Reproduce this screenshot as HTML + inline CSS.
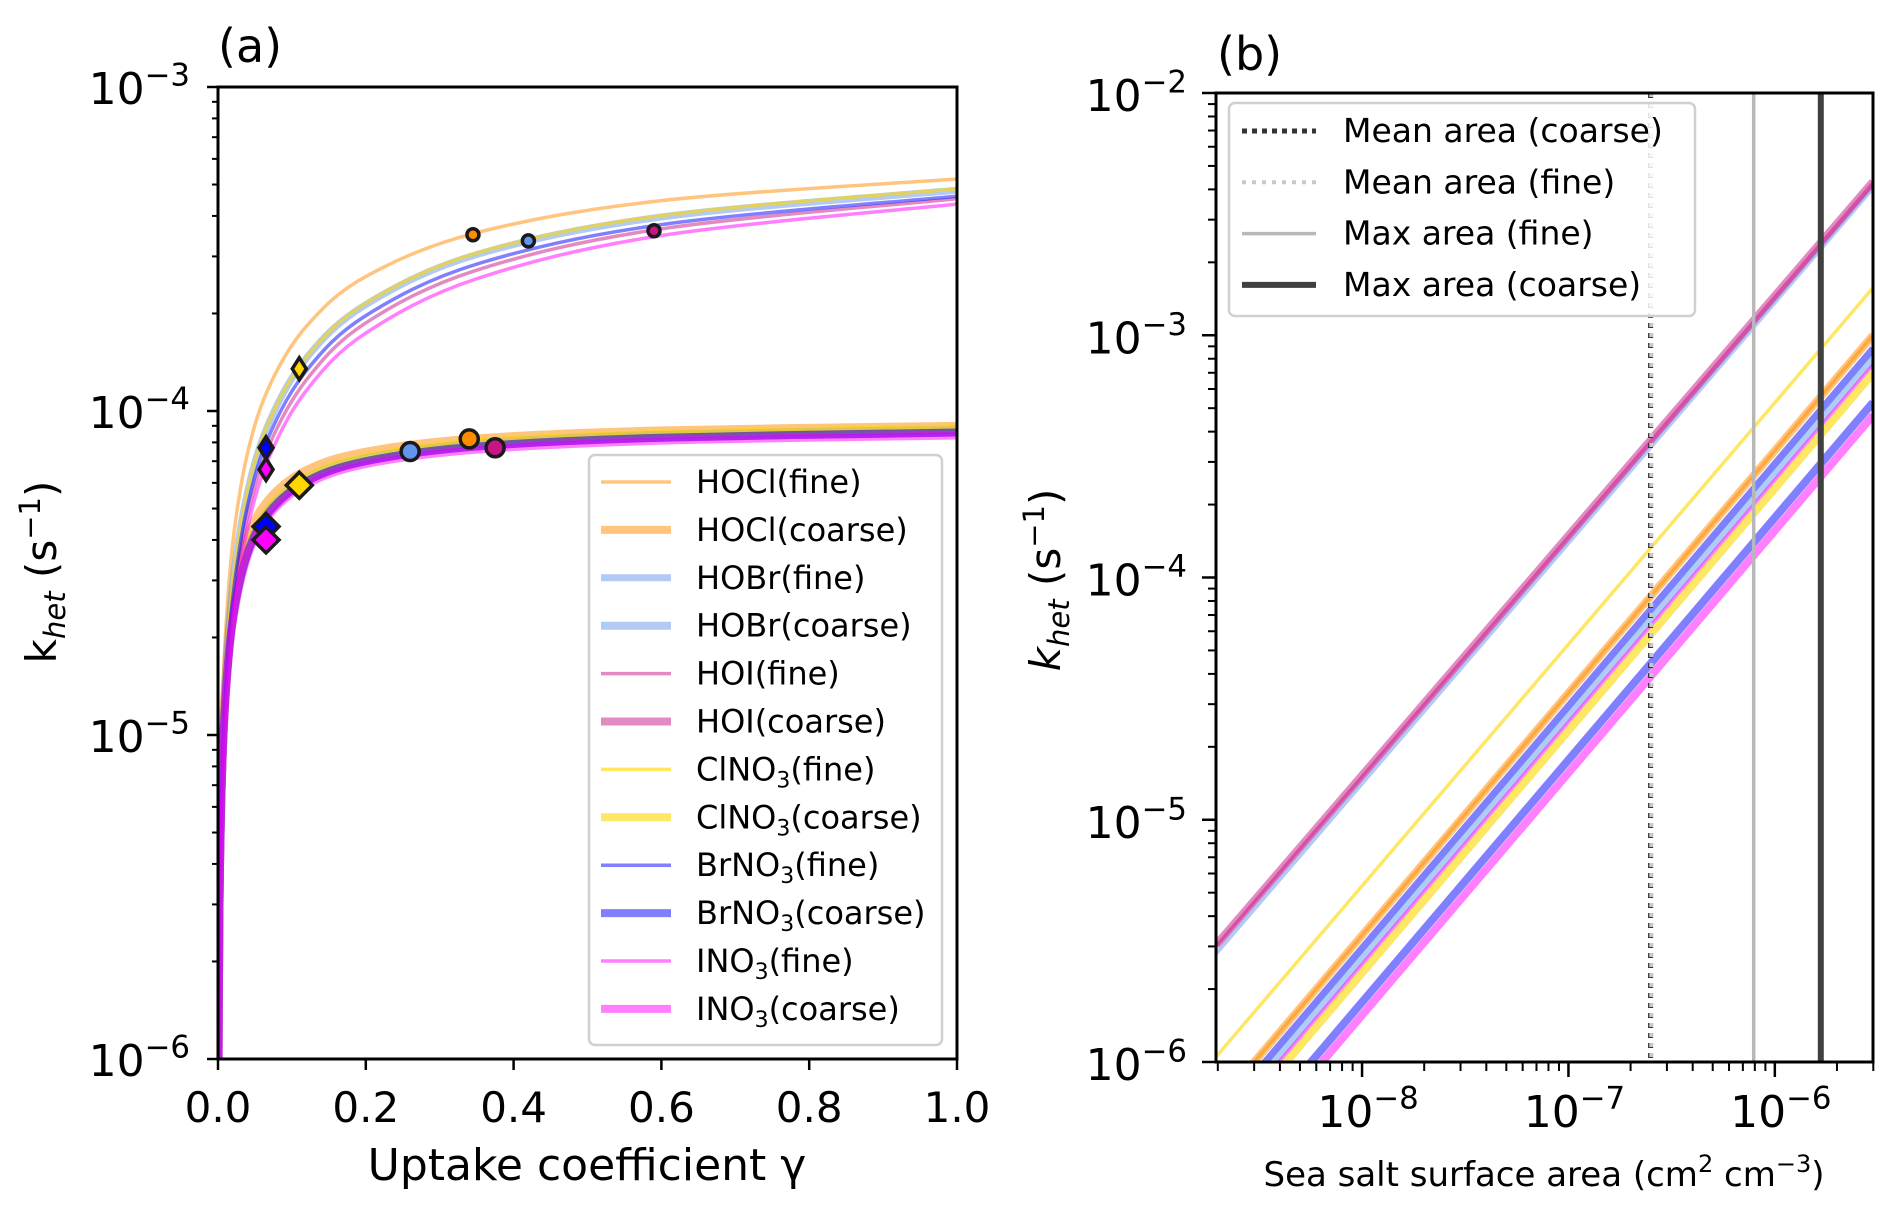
<!DOCTYPE html>
<html><head><meta charset="utf-8"><style>
html,body{margin:0;padding:0;background:#fff;width:1892px;height:1210px;overflow:hidden;}
svg{display:block;}
text{font-family:"DejaVu Sans","Liberation Sans",sans-serif;fill:#000;}
</style></head><body>
<svg id="fig" xmlns="http://www.w3.org/2000/svg" width="1892" height="1210" viewBox="0 0 1892 1210">
<defs>
<clipPath id="clipA"><rect x="218" y="87" width="739" height="972"/></clipPath>
<clipPath id="clipB"><rect x="1216" y="93" width="657" height="969"/></clipPath>
</defs>
<rect x="0" y="0" width="1892" height="1210" fill="#fff"/>
<g id="panelA"></g>
<g id="panelB"></g>
</svg>
<script>
// ---------- Panel (a) data ----------
const gammaGrid = [0.0002,0.0005,0.002,0.005,0.01,0.02,0.04,0.07,0.12,0.2,0.35,0.6,1.0];
const seriesNames = ["HOCl(fine)","HOCl(coarse)","HOBr(fine)","HOBr(coarse)","HOI(fine)","HOI(coarse)","ClNO3(fine)","ClNO3(coarse)","BrNO3(fine)","BrNO3(coarse)","INO3(fine)","INO3(coarse)"];
const kHOClFine   = [4.2e-7,1.04e-6,4.13e-6,1.02e-5,2.02e-5,3.92e-5,7.42e-5,1.20e-4,1.83e-4,2.60e-4,3.55e-4,4.46e-4,5.20e-4];
const kHOClCoarse = [3.6e-7,8.9e-7,3.58e-6,8.2e-6,1.5e-5,2.6e-5,4.08e-5,5.39e-5,6.58e-5,7.49e-5,8.23e-5,8.71e-5,9.0e-5];
const kHOBrFine   = [3.1e-7,7.7e-7,3.05e-6,7.6e-6,1.49e-5,2.93e-5,5.63e-5,9.3e-5,1.46e-4,2.13e-4,3.04e-4,3.97e-4,4.80e-4];
const kHOBrCoarse = [3.05e-7,7.6e-7,3.0e-6,7.1e-6,1.33e-5,2.33e-5,3.71e-5,5.0e-5,6.19e-5,7.14e-5,7.93e-5,8.44e-5,8.75e-5];
const kHOIFine    = [2.6e-7,6.4e-7,2.54e-6,6.3e-6,1.25e-5,2.46e-5,4.75e-5,7.9e-5,1.25e-4,1.87e-4,2.72e-4,3.65e-4,4.52e-4];
const kHOICoarse  = [3.0e-7,7.5e-7,2.94e-6,7.0e-6,1.3e-5,2.28e-5,3.64e-5,4.9e-5,6.07e-5,7.0e-5,7.77e-5,8.27e-5,8.58e-5];
const kClNO3Fine  = [3.1e-7,7.8e-7,3.08e-6,7.7e-6,1.5e-5,2.96e-5,5.69e-5,9.4e-5,1.47e-4,2.15e-4,3.07e-4,4.01e-4,4.85e-4];
const kClNO3Coarse= [3.1e-7,7.7e-7,3.03e-6,7.2e-6,1.34e-5,2.35e-5,3.75e-5,5.05e-5,6.25e-5,7.2e-5,8.0e-5,8.5e-5,8.84e-5];
const kBrNO3Fine  = [2.8e-7,6.9e-7,2.75e-6,6.83e-6,1.35e-5,2.65e-5,5.11e-5,8.47e-5,1.335e-4,1.97e-4,2.84e-4,3.76e-4,4.60e-4];
const kBrNO3Coarse= [3.0e-7,7.5e-7,2.94e-6,7.0e-6,1.3e-5,2.28e-5,3.64e-5,4.9e-5,6.07e-5,7.0e-5,7.77e-5,8.27e-5,8.58e-5];
const kINO3Fine   = [2.3e-7,5.8e-7,2.31e-6,5.75e-6,1.14e-5,2.25e-5,4.35e-5,7.27e-5,1.16e-4,1.74e-4,2.56e-4,3.48e-4,4.35e-4];
const kINO3Coarse = [2.9e-7,7.3e-7,2.88e-6,6.9e-6,1.27e-5,2.23e-5,3.57e-5,4.8e-5,5.95e-5,6.86e-5,7.6e-5,8.1e-5,8.4e-5];
const xTicksA = [0.0,0.2,0.4,0.6,0.8,1.0];
const xTickLabelsA = ["0.0","0.2","0.4","0.6","0.8","1.0"];
const yDecadesA = [-6,-5,-4,-3];
// markers
const circleGamma = [0.345,0.42,0.59,0.26,0.34,0.375];
const circleK = [3.5e-4,3.35e-4,3.6e-4,7.5e-5,8.2e-5,7.7e-5];
const diamondGamma = [0.11,0.065,0.065,0.11,0.065,0.065];
const diamondK = [1.35e-4,7.7e-5,6.6e-5,5.9e-5,4.4e-5,4.0e-5];

// ---------- Panel (b) data ----------
const bNames = ["HOBr(fine)","HOI(fine)","HOI(coarse)","ClNO3(fine)","HOCl(coarse)","HOCl(fine)","BrNO3(fine)","HOBr(coarse)","INO3(fine)","ClNO3(coarse)","BrNO3(coarse)","INO3(coarse)"];
const bKLeft  = [2.8e-6,3.0e-6,3.04e-6,1.05e-6,6.53e-7,6.53e-7,5.78e-7,5.28e-7,4.95e-7,4.57e-7,3.46e-7,3.06e-7];
const bKRight = [4.05e-3,4.25e-3,4.3e-3,1.57e-3,1.0e-3,1.0e-3,8.8e-4,8.05e-4,7.55e-4,6.97e-4,5.28e-4,4.67e-4];
const bSLeft = 1.96e-9, bSRight = 2.99e-6;
const vlineS = [2.5e-7,2.52e-7,7.9e-7,1.67e-6];
const xDecadesB = [-8,-7,-6];
const yDecadesB = [-6,-5,-4,-3,-2];

// ---------- helpers ----------
const NS="http://www.w3.org/2000/svg";
function mk(tag,attrs,parent){const e=document.createElementNS(NS,tag);for(const k in attrs)e.setAttribute(k,attrs[k]);parent.appendChild(e);return e;}
const A={x0:218,x1:957,y0:1059,y1:87,lmin:-6,lmax:-3};
const ax=g=>A.x0+(A.x1-A.x0)*g;
const ay=k=>A.y0-(A.y0-A.y1)*(Math.log10(k)-A.lmin)/(A.lmax-A.lmin);
const B={x0:1216,x1:1873,y0:1062,y1:93,xlmin:Math.log10(1.96e-9),xlmax:Math.log10(2.99e-6),lmin:-6,lmax:-2};
const bx=s=>B.x0+(B.x1-B.x0)*(Math.log10(s)-B.xlmin)/(B.xlmax-B.xlmin);
const by=k=>B.y0-(B.y0-B.y1)*(Math.log10(k)-B.lmin)/(B.lmax-B.lmin);

function smoothPath(pts){let d="M"+pts[0][0].toFixed(2)+","+pts[0][1].toFixed(2);
 for(let i=0;i<pts.length-1;i++){const p0=pts[Math.max(0,i-1)],p1=pts[i],p2=pts[i+1],p3=pts[Math.min(pts.length-1,i+2)];
  const c1=[p1[0]+(p2[0]-p0[0])/6,p1[1]+(p2[1]-p0[1])/6],c2=[p2[0]-(p3[0]-p1[0])/6,p2[1]-(p3[1]-p1[1])/6];
  d+=" C"+c1.map(v=>v.toFixed(2)).join(",")+" "+c2.map(v=>v.toFixed(2)).join(",")+" "+p2[0].toFixed(2)+","+p2[1].toFixed(2);}
 return d;}
function supLabel(parent,x,y,base,sup,size,anchor,name){
 const t=mk("text",{x:x,y:y,"font-size":size,"text-anchor":anchor},parent);
 
 
 const a=mk("tspan",{},t);a.textContent=base;
 const b=mk("tspan",{dy:-size*0.42,"font-size":size*0.7},t);b.textContent=sup;
 return t;}

const styles={
 "HOCl":{c:"#ff8c00",o:0.5},"HOBr":{c:"#6495ed",o:0.5},"HOI":{c:"#c71585",o:0.5},
 "ClNO3":{c:"#ffd700",o:0.6},"BrNO3":{c:"#0000ff",o:0.5},"INO3":{c:"#ff00ff",o:0.5}};
function styleOf(name){const sp=name.split("(")[0];const coarse=name.indexOf("coarse")>=0;
 let w=coarse?8:3.5; if(name==="HOBr(fine)")w=7; return {c:styles[sp].c,o:styles[sp].o,w:w};}

// ---------- Panel A ----------
const pa=document.getElementById("panelA");
const curvesA=[kHOClFine,kHOClCoarse,kHOBrFine,kHOBrCoarse,kHOIFine,kHOICoarse,kClNO3Fine,kClNO3Coarse,kBrNO3Fine,kBrNO3Coarse,kINO3Fine,kINO3Coarse];
const gA=mk("g",{"clip-path":"url(#clipA)"},pa);


curvesA.forEach((arr,i)=>{
 const s=styleOf(seriesNames[i]);
 const pts=gammaGrid.map((g,j)=>[ax(g),ay(arr[j])]);
 pts.unshift([ax(0),ay(1e-8)]);
 const p=mk("path",{d:smoothPath(pts),fill:"none",stroke:s.c,"stroke-opacity":s.o,"stroke-width":s.w,"stroke-linecap":"butt"},gA);
 
 
});
const circleColors=["#ff8c00","#6495ed","#c71585","#6495ed","#ff8c00","#c71585"];
const circleR=[6,6,6,9,9,9];
circleGamma.forEach((g,i)=>{
 const c=mk("circle",{cx:ax(g),cy:ay(circleK[i]),r:circleR[i],fill:circleColors[i],stroke:"#1a1a1a","stroke-width":3.5},pa);
 
 
});
const diamondColors=["#ffd700","#0000ff","#ff00ff","#ffd700","#0000ff","#ff00ff"];
const diamondW=[7,7,7,13,13,13], diamondH=[11,11,11,13,13,13];
diamondGamma.forEach((g,i)=>{
 const x=ax(g),y=ay(diamondK[i]),w=diamondW[i],h=diamondH[i];
 const d=mk("polygon",{points:`${x},${y-h} ${x+w},${y} ${x},${y+h} ${x-w},${y}`,fill:diamondColors[i],stroke:"#1a1a1a","stroke-width":3.5,"stroke-linejoin":"miter"},pa);
 
 
});
const fa=mk("rect",{x:A.x0,y:A.y1,width:A.x1-A.x0,height:A.y0-A.y1,fill:"none",stroke:"#000","stroke-width":3},pa);


xTicksA.forEach((g,i)=>{
 const l=mk("line",{x1:ax(g),x2:ax(g),y1:A.y0,y2:A.y0+11,stroke:"#000","stroke-width":2.5},pa);
 
 
 const t=mk("text",{x:ax(g),y:1122,"font-size":42,"text-anchor":"middle"},pa);
 t.textContent=xTickLabelsA[i];
 
 
});
yDecadesA.forEach(dc=>{
 const y=ay(Math.pow(10,dc));
 const l=mk("line",{x1:A.x0-11,x2:A.x0,y1:y,y2:y,stroke:"#000","stroke-width":2.5},pa);
 
 
 supLabel(pa,190,y+17,"10","\u2212"+(-dc),44,"end",'y-tick-label-a');
 if(dc<A.lmax){for(let m=2;m<=9;m++){const ym=ay(m*Math.pow(10,dc));
  const lm=mk("line",{x1:A.x0-6,x2:A.x0,y1:ym,y2:ym,stroke:"#000","stroke-width":2},pa);
  
  }}
});
const xla=mk("text",{x:587,y:1180,"font-size":44,"text-anchor":"middle"},pa);
xla.textContent="Uptake coefficient \u03b3";


const yla=mk("text",{x:0,y:0,"font-size":42,"text-anchor":"middle",transform:"translate(56,572) rotate(-90)"},pa);


yla.innerHTML='k<tspan font-style="italic" font-size="29" dy="9">het</tspan><tspan dy="-9"> (s</tspan><tspan font-size="29" dy="-16">\u22121</tspan><tspan dy="16">)</tspan>';
const pla=mk("text",{x:218,y:62,"font-size":46},pa);
pla.textContent="(a)";


const lgA=mk("g",{},pa);


const lbA=mk("rect",{x:589,y:455,width:353,height:590,rx:6,fill:"#fff","fill-opacity":0.85,stroke:"#d0d0d0","stroke-width":2.5},lgA);


seriesNames.forEach((n,i)=>{
 const y=482+i*47.9, s=styleOf(n);
 const e=mk("g",{},lgA);
 
 
 mk("line",{x1:601,x2:671,y1:y,y2:y,stroke:s.c,"stroke-opacity":s.o,"stroke-width":s.w},e);
 const t=mk("text",{x:696,y:y+11,"font-size":32},e);
 const m=n.match(/^(.*?)3(\(.*\))$/);
 if(m){t.innerHTML=m[1]+'<tspan font-size="22" dy="7">3</tspan><tspan dy="-7">'+m[2]+'</tspan>';}
 else t.textContent=n;
});

// ---------- Panel B ----------
const pb=document.getElementById("panelB");
const gB=mk("g",{"clip-path":"url(#clipB)"},pb);


bNames.forEach((n,i)=>{
 const s=styleOf(n);
 let w=s.w; if(n==="BrNO3(fine)")w=7; if(n==="HOBr(fine)")w=4;
 const l=mk("line",{x1:bx(bSLeft),y1:by(bKLeft[i]),x2:bx(bSRight),y2:by(bKRight[i]),stroke:s.c,"stroke-opacity":s.o,"stroke-width":w},gB);
 
 
});
const vStyles=[{c:"#333333",w:5,da:"5,5"},{c:"#c8c8c8",w:4,da:"4,6"},{c:"#b8b8b8",w:3.5,da:""},{c:"#404040",w:6,da:""}];
const vNames=["Mean area (coarse)","Mean area (fine)","Max area (fine)","Max area (coarse)"];
vlineS.forEach((s,i)=>{
 const v=vStyles[i];
 const l=mk("line",{x1:bx(s),x2:bx(s),y1:B.y1,y2:B.y0,stroke:v.c,"stroke-width":v.w,"stroke-dasharray":v.da},gB);
 
 
});
const fb=mk("rect",{x:B.x0,y:B.y1,width:B.x1-B.x0,height:B.y0-B.y1,fill:"none",stroke:"#000","stroke-width":3},pb);


for(let dc=-9;dc<=-6;dc++){
 for(let m=1;m<=9;m++){const s=m*Math.pow(10,dc);const x=bx(s);
  if(x<B.x0-0.5||x>B.x1+0.5)continue;
  const major=(m===1);
  const l=mk("line",{x1:x,x2:x,y1:B.y0,y2:B.y0+(major?15:9),stroke:"#000","stroke-width":major?2.5:2},pb);
  
  }
}
xDecadesB.forEach(dc=>{supLabel(pb,bx(Math.pow(10,dc))+6,1127,"10","\u2212"+(-dc),44,"middle",'x-tick-label-b');});
yDecadesB.forEach(dc=>{
 const y=by(Math.pow(10,dc));
 const l=mk("line",{x1:B.x0-14,x2:B.x0,y1:y,y2:y,stroke:"#000","stroke-width":2.5},pb);
 
 
 supLabel(pb,1187,y+18,"10","\u2212"+(-dc),44,"end",'y-tick-label-b');
 if(dc<B.lmax){for(let m=2;m<=9;m++){const ym=by(m*Math.pow(10,dc));
  const lm=mk("line",{x1:B.x0-8,x2:B.x0,y1:ym,y2:ym,stroke:"#000","stroke-width":2},pb);
  
  }}
});
const xlb=mk("text",{x:1544,y:1186,"font-size":34,"text-anchor":"middle"},pb);


xlb.innerHTML='Sea salt surface area (cm<tspan font-size="24" dy="-14">2</tspan><tspan dy="14"> cm</tspan><tspan font-size="24" dy="-14">\u22123</tspan><tspan dy="14">)</tspan>';
const ylb=mk("text",{x:0,y:0,"font-size":42,"text-anchor":"middle",transform:"translate(1060,580) rotate(-90)"},pb);


ylb.innerHTML='<tspan font-style="italic">k</tspan><tspan font-style="italic" font-size="29" dy="9">het</tspan><tspan dy="-9"> (s</tspan><tspan font-size="29" dy="-16">\u22121</tspan><tspan dy="16">)</tspan>';
const plb=mk("text",{x:1217,y:70,"font-size":46},pb);
plb.textContent="(b)";


const lgB=mk("g",{},pb);


const lbB=mk("rect",{x:1229,y:103,width:466,height:213,rx:6,fill:"#fff","fill-opacity":0.85,stroke:"#d0d0d0","stroke-width":2.5},lgB);


vNames.forEach((n,i)=>{
 const y=131+i*51.3, v=vStyles[i];
 const e=mk("g",{},lgB);
 
 
 mk("line",{x1:1242,x2:1316,y1:y,y2:y,stroke:v.c,"stroke-width":v.w,"stroke-dasharray":v.da},e);
 const t=mk("text",{x:1343,y:y+11,"font-size":33},e);
 t.textContent=n;
});
</script>
</body></html>
